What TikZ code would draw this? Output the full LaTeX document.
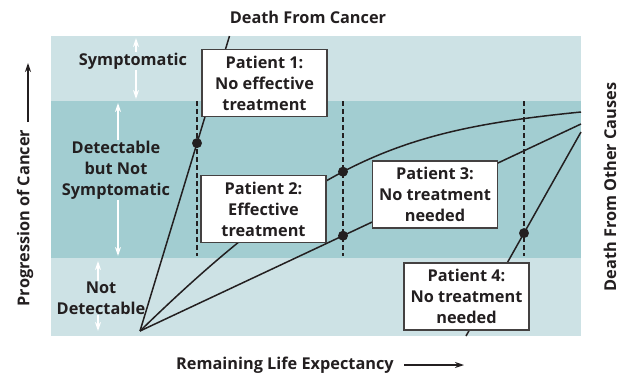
\documentclass[tikz,border=0pt]{standalone}
\usepackage{fontspec}
\setmainfont{Open Sans}
\usetikzlibrary{arrows.meta,intersections}
\definecolor{bandlight}{RGB}{205,226,229}
\definecolor{bandmid}{RGB}{162,205,209}
\definecolor{ink}{RGB}{35,31,32}

\begin{document}
\begin{tikzpicture}[x=1pt,y=-1pt,
  lbl/.style={font=\fontsize{16.3}{21}\selectfont\bfseries, text=ink, align=center, inner sep=1pt},
  patbox/.style={lbl, draw=ink!85, fill=white, line width=1.1pt, minimum width=125pt, minimum height=67pt, inner sep=0pt},
  course/.style={draw=ink, line width=1.5pt},
  guide/.style={draw=ink, line width=1.4pt, dash pattern=on 5pt off 3pt},
  gauge/.style={draw=white, line width=1.4pt, {Stealth[length=9pt,width=6pt]}-{Stealth[length=9pt,width=6pt]}},
  axisarrow/.style={draw=ink, line width=1.1pt, -{Stealth[length=9pt,width=6pt]}},
  dot/.style={circle, fill=ink, inner sep=0pt, minimum size=10pt}
]
\useasboundingbox (0,0) rectangle (627,375);

% stages of the disease
\fill[bandlight] (51,36) rectangle (581,101);
\fill[bandmid] (51,101) rectangle (581,258);
\fill[bandlight] (51,258) rectangle (581,336);

% extent of each stage
\coordinate (s1) at (136,38);  \coordinate (s2) at (136,99);
\coordinate (t1) at (118,103); \coordinate (t2) at (118,256);
\coordinate (u1) at (98,261);  \coordinate (u2) at (98,331);
\draw[gauge] (s1) -- (s2);
\draw[gauge] (t1) -- (t2);
\draw[gauge] (u1) -- (u2);
\node[lbl, fill=bandlight] (sym) at (133,61) {Symptomatic};
\node[lbl, fill=bandmid] (det) at (116,170) {Detectable\\but Not\\Symptomatic};
\node[lbl, fill=bandlight] (notdet) at (101,298) {Not\\Detectable};

% screening times
\coordinate (g1a) at (197,101); \coordinate (g1b) at (197,256);
\coordinate (g2a) at (343,101); \coordinate (g2b) at (343,256);
\coordinate (g3a) at (524,101); \coordinate (g3b) at (524,256);
\path[guide, name path=g1] (g1a) -- (g1b);
\path[guide, name path=g2] (g2a) -- (g2b);
\path[guide, name path=g3] (g3a) -- (g3b);

% courses of the disease
\coordinate (O) at (140,331);
\coordinate (e1) at (229.5,36);
\coordinate (e2) at (581,112);
\coordinate (e3) at (581,124);
\coordinate (b4) at (466,336);
\coordinate (e4) at (581,132);
\path[course, name path=p1] (O) -- (e1);
\path[course, name path=p2] (O) .. controls (318,158) and (401,130) .. (e2);
\path[course, name path=p3] (O) -- (e3);
\path[course, name path=p4] (b4) -- (e4);

\path[name intersections={of=p1 and g1, by=x1}];
\path[name intersections={of=p2 and g2, by=x2}];
\path[name intersections={of=p3 and g2, by=x3}];
\path[name intersections={of=p4 and g3, by=x4}];
\node[dot] (m1) at (x1) {};
\node[dot] (m2) at (x2) {};
\node[dot] (m3) at (x3) {};
\node[dot] (m4) at (x4) {};

% patients
\node[patbox] (pat1) at (264.5,83) {Patient 1:\\No effective\\treatment};
\node[patbox] (pat2) at (263.5,209) {Patient 2:\\Effective\\treatment};
\node[patbox] (pat3) at (435,194.5) {Patient 3:\\No treatment\\needed};
\node[patbox] (pat4) at (466.5,296.5) {Patient 4:\\No treatment\\needed};

% axes
\node[lbl] (death) at (308,17) {Death From Cancer};
\node[lbl, rotate=90] (other) at (610,187) {Death From Other Causes};
\node[lbl, rotate=90] (prog) at (25,218) {Progression of Cancer};
\coordinate (pa) at (28,122); \coordinate (pb) at (28,63);
\draw[axisarrow] (pa) -- (pb);
\node[lbl] (life) at (285,365) {Remaining Life Expectancy};
\coordinate (la) at (404,365); \coordinate (lb) at (464,365);
\draw[axisarrow] (la) -- (lb);
\end{tikzpicture}
\end{document}
